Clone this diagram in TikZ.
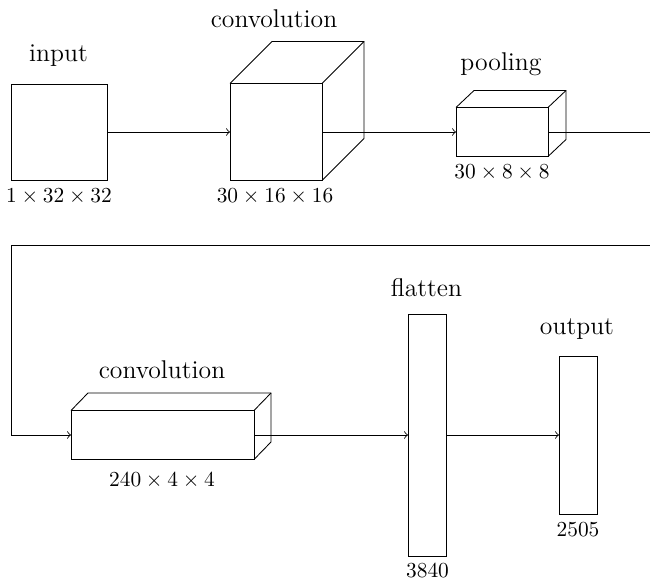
\documentclass[tikz,border=0pt]{standalone}
\usetikzlibrary{calc}
\newcommand\unitpx{0.4675pt}
\tikzset{
  layer/.style={draw, inner sep=0pt, outer sep=0pt, line width=0.4pt},
  title/.style={font=\large, anchor=base, inner sep=0pt},
  dims/.style={font=\normalsize, anchor=base, inner sep=0pt},
  link/.style={line width=0.4pt},
  flow/.style={line width=0.4pt, ->},
}
\begin{document}
\begin{tikzpicture}[x=\unitpx, y=-\unitpx]
  \useasboundingbox (0,0) rectangle (650,581);
  \clip (0,0) rectangle (650,581);

  % first row
  \node[layer, minimum width=96*\unitpx, minimum height=96*\unitpx] (input) at (59,132) {};
  \node[title] (inputlbl) at (58.5,62) {input};
  \node[dims] (inputdim) at (59,202.5) {$1\times32\times32$};

  \node[layer, minimum width=92*\unitpx, minimum height=97*\unitpx] (conv1) at (276,132) {};
  \draw[link] (conv1.north west) -- ++(42,-42) -- ($(conv1.north east)+(42,-42)$)
              -- ($(conv1.south east)+(42,-42)$) -- (conv1.south east);
  \draw[link] (conv1.north east) -- ++(42,-42);
  \node[title] (conv1lbl) at (274,28) {convolution};
  \node[dims] (conv1dim) at (275,202.5) {$30\times16\times16$};

  \node[layer, minimum width=92*\unitpx, minimum height=49*\unitpx] (pool) at (502,132) {};
  \draw[link] (pool.north west) -- ++(18,-17) -- ($(pool.north east)+(18,-17)$)
              -- ($(pool.south east)+(18,-17)$) -- (pool.south east);
  \draw[link] (pool.north east) -- ++(18,-17);
  \node[title] (poollbl) at (501,70.5) {pooling};
  \node[dims] (pooldim) at (502,179) {$30\times8\times8$};

  % second row
  \node[layer, minimum width=183*\unitpx, minimum height=49*\unitpx] (conv2) at (162.5,435) {};
  \draw[link] (conv2.north west) -- ++(17,-17.5) -- ($(conv2.north east)+(17,-17.5)$)
              -- ($(conv2.south east)+(17,-17.5)$) -- (conv2.south east);
  \draw[link] (conv2.north east) -- ++(17,-17.5);
  \node[title] (conv2lbl) at (162,379) {convolution};
  \node[dims] (conv2dim) at (162,487) {$240\times4\times4$};

  \node[layer, minimum width=38*\unitpx, minimum height=242*\unitpx] (flat) at (427,435) {};
  \node[title] (flatlbl) at (426.5,296.5) {flatten};
  \node[dims] (flatdim) at (427.5,577) {$3840$};

  \node[layer, minimum width=38*\unitpx, minimum height=158*\unitpx] (out) at (578,435) {};
  \node[title] (outlbl) at (577,334.5) {output};
  \node[dims] (outdim) at (578,536.5) {$2505$};

  % connectors
  \coordinate (wrapA) at (660,132);
  \coordinate (wrapB) at (660,245);
  \coordinate (wrapC) at (11,245);
  \draw[flow] (input.east) -- (conv1.west);
  \draw[flow] (conv1.east) -- (pool.west);
  \draw[flow] (pool.east) -- (wrapA) -- (wrapB) -- (wrapC) |- (conv2.west);
  \draw[flow] (conv2.east) -- (flat.west);
  \draw[flow] (flat.east) -- (out.west);
\end{tikzpicture}
\end{document}
